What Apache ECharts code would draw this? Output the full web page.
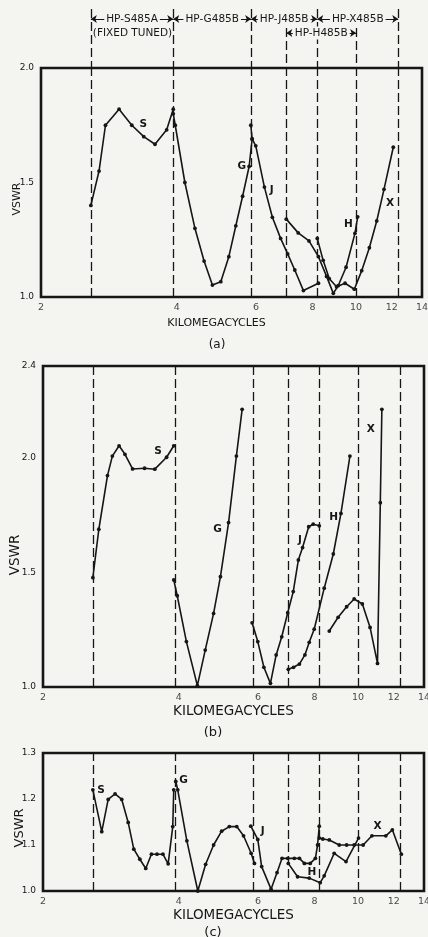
<!DOCTYPE html>
<html><head><meta charset="utf-8">
<script src="https://cdn.jsdelivr.net/npm/echarts@6/dist/echarts.min.js"></script>
<style>html,body{margin:0;padding:0;background:#f4f4f1;}#c{width:428px;height:937px;}</style>
</head><body><div id="c"></div>
<script>
// ---- tick labels / bands ----
const xTicks = [2, 4, 6, 8, 10, 12, 14];
const bandEdges = [2.58, 3.93, 5.85, 7.0, 8.2, 10.0, 12.4];
const bandNames = ['HP-S485A', 'HP-G485B', 'HP-J485B', 'HP-X485B', 'HP-H485B'];
const bandFrom  = [2.58, 3.93, 5.85, 8.2, 7.0];
const bandTo    = [3.93, 5.85, 8.2, 12.4, 10.0];

// ---- panel (a) ----
const aS_f = [2.58, 2.69, 2.78, 2.98, 3.18, 3.38, 3.58, 3.80, 3.93];
const aS_v = [1.40, 1.55, 1.75, 1.82, 1.75, 1.70, 1.667, 1.73, 1.82];
const aG_f = [3.93, 3.97, 4.17, 4.39, 4.60, 4.80, 5.01, 5.22, 5.41, 5.60, 5.79, 5.88];
const aG_v = [1.80, 1.75, 1.50, 1.30, 1.157, 1.052, 1.067, 1.176, 1.311, 1.44, 1.57, 1.69];
const aJ_f = [5.84, 5.88, 5.99, 6.26, 6.52, 6.80, 7.05, 7.31, 7.64, 8.25];
const aJ_v = [1.75, 1.69, 1.66, 1.48, 1.348, 1.256, 1.188, 1.118, 1.028, 1.06];
const aH_f = [7.0, 7.44, 7.86, 8.25, 8.6, 8.9, 9.13, 9.5, 9.94, 10.08];
const aH_v = [1.34, 1.28, 1.245, 1.176, 1.09, 1.016, 1.05, 1.13, 1.278, 1.35];
const aX_f = [8.2, 8.45, 8.72, 9.05, 9.45, 9.91, 10.29, 10.70, 11.11, 11.53, 12.09];
const aX_v = [1.256, 1.16, 1.08, 1.045, 1.06, 1.034, 1.115, 1.215, 1.332, 1.47, 1.654];

// ---- panel (b) ----
const bS_f = [2.58, 2.66, 2.78, 2.85, 2.95, 3.04, 3.16, 3.36, 3.54, 3.76, 3.90];
const bS_v = [1.477, 1.688, 1.922, 2.007, 2.052, 2.015, 1.951, 1.954, 1.950, 2.002, 2.052];
const bG_f = [3.90, 3.97, 4.16, 4.40, 4.58, 4.78, 4.95, 5.16, 5.37, 5.53];
const bG_v = [1.467, 1.398, 1.198, 1.006, 1.161, 1.321, 1.481, 1.717, 2.007, 2.211];
const bJ_f = [5.82, 5.99, 6.18, 6.39, 6.58, 6.77, 6.98, 7.18, 7.37, 7.53, 7.77, 7.95, 8.20];
const bJ_v = [1.28, 1.198, 1.086, 1.016, 1.14, 1.219, 1.324, 1.416, 1.554, 1.608, 1.699, 1.71, 1.703];
const bH_f = [7.0, 7.19, 7.41, 7.62, 7.79, 7.99, 8.41, 8.81, 9.16, 9.59];
const bH_v = [1.077, 1.086, 1.10, 1.14, 1.195, 1.252, 1.431, 1.58, 1.757, 2.007];
const bX_f = [8.63, 9.03, 9.43, 9.80, 10.22, 10.63, 11.04, 11.2, 11.29];
const bX_v = [1.244, 1.304, 1.35, 1.384, 1.362, 1.26, 1.103, 1.804, 2.211];

// ---- panel (c) ----
const cS_f = [2.58, 2.70, 2.79, 2.89, 2.99, 3.09, 3.18, 3.28, 3.38, 3.48, 3.58, 3.69, 3.79, 3.88, 3.90];
const cS_v = [1.22, 1.129, 1.199, 1.211, 1.199, 1.149, 1.091, 1.069, 1.049, 1.08, 1.08, 1.08, 1.059, 1.14, 1.22];
const cG_f = [3.94, 3.98, 4.17, 4.41, 4.59, 4.78, 4.98, 5.18, 5.38, 5.57, 5.79, 5.89];
const cG_v = [1.238, 1.22, 1.109, 1.0, 1.058, 1.10, 1.13, 1.14, 1.14, 1.12, 1.082, 1.06];
const cJ_f = [5.78, 5.99, 6.11, 6.41, 6.61, 6.78, 6.98, 7.22, 7.41, 7.60, 7.83, 8.04, 8.13, 8.20];
const cJ_v = [1.141, 1.112, 1.053, 1.004, 1.04, 1.071, 1.071, 1.071, 1.071, 1.06, 1.06, 1.071, 1.10, 1.141];
const cH_f = [7.0, 7.34, 7.79, 8.24, 8.41, 8.85, 9.40, 10.02];
const cH_v = [1.06, 1.031, 1.028, 1.018, 1.033, 1.082, 1.064, 1.115];
const cX_f = [8.2, 8.35, 8.63, 9.08, 9.43, 9.80, 10.26, 10.73, 11.52, 11.91, 12.47];
const cX_v = [1.115, 1.113, 1.111, 1.10, 1.10, 1.10, 1.10, 1.12, 1.12, 1.133, 1.08];

// ---- curve letter positions (annotation) ----
const letterPos = {
  a: {S: [3.37, 1.755], G: [5.58, 1.572], J: [6.50, 1.464], H: [9.61, 1.319], X: [11.89, 1.41]},
  b: {S: [3.6, 2.029], G: [4.88, 1.687], J: [7.43, 1.641], H: [8.82, 1.742], X: [10.67, 2.124]},
  c: {S: [2.69, 1.22], G: [4.10, 1.24], J: [6.14, 1.129], H: [7.9, 1.04], X: [11.04, 1.14]}
};

const INK = '#161616', BG = '#f4f4f1', FONT = 'DejaVu Sans';
const chart = echarts.init(document.getElementById('c'));

const gridDefs = [
  {left: 41, right: 6, top: 68, height: 229},
  {left: 43, right: 4, top: 366, height: 321},
  {left: 43, right: 4, top: 753, height: 138},
  {left: 41, right: 6, top: 8, height: 60}
];
const yRange = [[1, 2], [1, 2.4], [1, 1.3]];
const yInterval = [0.5, 0.5, 0.1];
const yCustom = [[1.0, 1.5, 2.0], [1.0, 1.5, 2.0, 2.4], [1.0, 1.1, 1.2, 1.3]];
const xNameSize = [11, 13.5, 13.5], xNameGap = [21, 17, 17];

const grid = gridDefs.map((g, i) => Object.assign({outerBoundsMode: 'none', containLabel: false}, g,
  i < 3 ? {show: true, borderColor: INK, borderWidth: 2.6} : {show: false}));
const xAxis = gridDefs.map((g, i) => ({
  type: 'log', logBase: 10, min: 2, max: 14, gridIndex: i,
  axisLine: {show: false}, axisTick: {show: false}, axisLabel: {show: false}, splitLine: {show: false},
  name: i < 3 ? 'KILOMEGACYCLES' : '', nameLocation: 'middle', nameGap: xNameGap[i] || 0,
  nameTextStyle: {color: INK, fontFamily: FONT, fontSize: xNameSize[i] || 10, padding: i === 0 ? [0, 30, 0, 0] : [0, 0, 0, 0]}
}));
const yAxis = gridDefs.map((g, i) => i < 3 ? ({
  type: 'value', gridIndex: i, min: yRange[i][0], max: yRange[i][1], interval: yInterval[i],
  axisLine: {show: false}, axisTick: {show: false}, splitLine: {show: false},
  axisLabel: {customValues: yCustom[i], formatter: v => Number(v).toFixed(1), color: INK, fontFamily: FONT, fontSize: 9, margin: 7}
}) : ({type: 'value', gridIndex: 3, min: 0, max: 60, inverse: true, show: false}));

const series = [];
function curve(name, f, v, gi, key) {
  series.push({
    type: 'line', name: key + name, xAxisIndex: gi, yAxisIndex: gi,
    data: f.map((x, i) => [x, v[i]]),
    symbol: 'circle', symbolSize: 3.8, showAllSymbol: true, z: 3,
    lineStyle: {color: INK, width: 1.6}, itemStyle: {color: INK},
    markPoint: {
      symbol: 'circle', symbolSize: 0, silent: true,
      data: [{coord: letterPos[key][name], name: name}],
      label: {show: true, position: 'inside', formatter: name, color: INK, fontSize: 10.5, fontWeight: 'bold', fontFamily: FONT}
    }
  });
}
curve('S', aS_f, aS_v, 0, 'a'); curve('G', aG_f, aG_v, 0, 'a'); curve('J', aJ_f, aJ_v, 0, 'a');
curve('H', aH_f, aH_v, 0, 'a'); curve('X', aX_f, aX_v, 0, 'a');
curve('S', bS_f, bS_v, 1, 'b'); curve('G', bG_f, bG_v, 1, 'b'); curve('J', bJ_f, bJ_v, 1, 'b');
curve('H', bH_f, bH_v, 1, 'b'); curve('X', bX_f, bX_v, 1, 'b');
curve('S', cS_f, cS_v, 2, 'c'); curve('G', cG_f, cG_v, 2, 'c'); curve('J', cJ_f, cJ_v, 2, 'c');
curve('H', cH_f, cH_v, 2, 'c'); curve('X', cX_f, cX_v, 2, 'c');

const dash = {color: INK, type: [9, 4], width: 1.3};
for (let gi = 0; gi < 3; gi++) {
  series.push({
    type: 'scatter', xAxisIndex: gi, yAxisIndex: gi, silent: true, clip: false, z: 2,
    data: xTicks.map(t => [t, yRange[gi][0]]),
    symbolSize: 1, itemStyle: {color: 'rgba(0,0,0,0)'},
    label: {show: true, position: 'bottom', distance: 5, formatter: p => String(p.value[0]), color: INK, fontFamily: FONT, fontSize: 9.5},
    markLine: {silent: true, symbol: 'none', label: {show: false}, lineStyle: dash,
      data: bandEdges.map(x => ({xAxis: x}))}
  });
}
// header: band arrows
series.push({
  type: 'scatter', xAxisIndex: 3, yAxisIndex: 3, data: [], silent: true,
  markLine: {silent: true, symbol: 'none', label: {show: false}, lineStyle: dash,
    data: bandEdges.map(x => [{coord: [x, (x === 7.0 || x === 10.0) ? 20 : 1]}, {coord: [x, 60]}])},
  markPoint: {symbol: 'circle', symbolSize: 0, silent: true,
    data: [{coord: [2.58, 25], name: 'ft'}],
    label: {show: true, position: 'right', distance: 2, formatter: '(FIXED TUNED)', color: INK, fontFamily: FONT, fontSize: 10.5}}
});
series.push({
  type: 'scatter', xAxisIndex: 3, yAxisIndex: 3, data: [], silent: true,
  markLine: {silent: true, symbol: ['arrow', 'arrow'], symbolSize: 6,
    lineStyle: {color: INK, type: 'solid', width: 1.2},
    label: {show: true, position: 'insideMiddle', formatter: '{b}', color: INK, fontFamily: FONT, fontSize: 10.5,
      backgroundColor: BG, padding: [1, 2]},
    data: bandNames.map((n, i) => [{coord: [bandFrom[i], i === 4 ? 25 : 11], name: n}, {coord: [bandTo[i], i === 4 ? 25 : 11]}])}
});

function vtext(x, y, size) {
  return {type: 'text', x: x, y: y, rotation: Math.PI / 2,
    style: {text: 'VSWR', font: size + 'px "DejaVu Sans"', fill: INK, align: 'center', verticalAlign: 'middle'}};
}
chart.setOption({
  backgroundColor: BG, animation: false,
  grid, xAxis, yAxis, series,
  graphic: [
    vtext(17, 199, 11), vtext(15, 555, 13.5), vtext(20, 828, 13),
    {type: 'text', x: 217, y: 345, style: {text: '(a)', font: '12px "DejaVu Sans"', fill: INK, align: 'center', verticalAlign: 'middle'}},
    {type: 'text', x: 213, y: 733, style: {text: '(b)', font: '13px "DejaVu Sans"', fill: INK, align: 'center', verticalAlign: 'middle'}},
    {type: 'text', x: 213, y: 933, style: {text: '(c)', font: '13px "DejaVu Sans"', fill: INK, align: 'center', verticalAlign: 'middle'}}
  ]
});
</script></body></html>
